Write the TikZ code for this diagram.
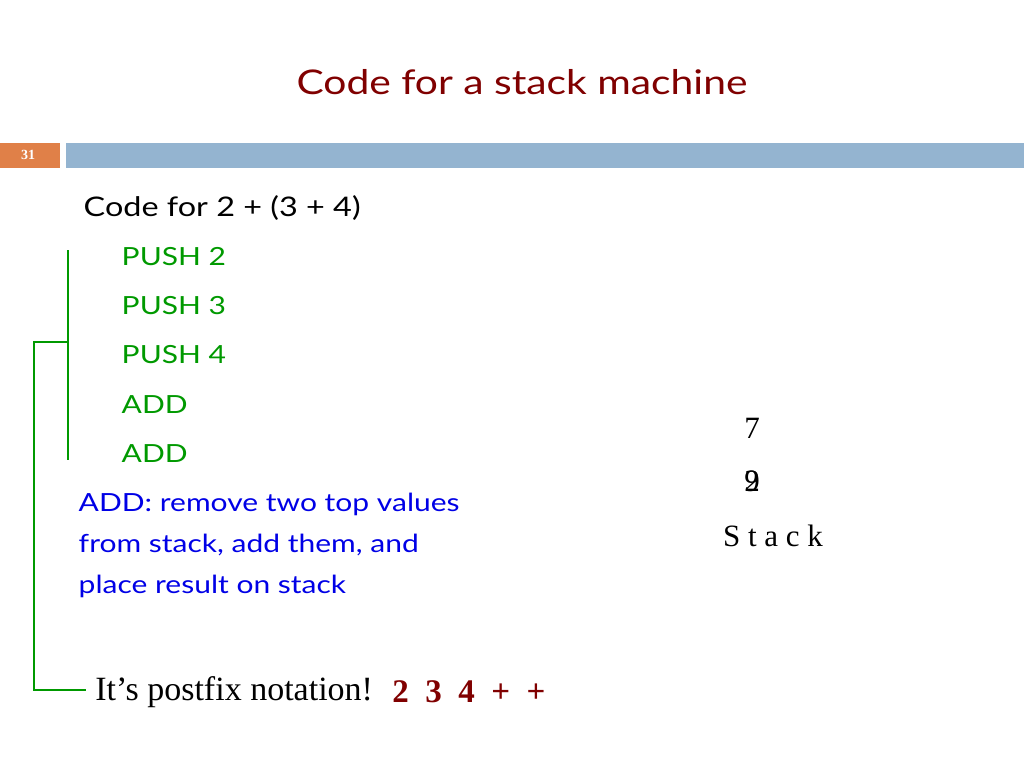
\documentclass[tikz,border=0pt]{standalone}
\usepackage{fontspec}
\setmainfont{Liberation Serif}
\newfontfamily\slidefont[FakeStretch=1.2]{Lato}
\usepackage{tikz}
\definecolor{titlered}{RGB}{128, 0, 0}
\definecolor{numorange}{RGB}{224, 128, 72}
\definecolor{barblue}{RGB}{148, 180, 208}
\definecolor{codegreen}{RGB}{0, 153, 0}
\definecolor{noteblue}{RGB}{0, 0, 230}

\begin{document}
\begin{tikzpicture}[x=1pt, y=-1pt, thick]
  \useasboundingbox (0, 0) rectangle (1024, 768);

  \node [text=titlered, font=\slidefont\fontsize{34}{40}\selectfont] (title) at (522, 82) {Code for a stack machine};

  \fill [numorange] (0, 143) rectangle (60, 168);
  \fill [barblue] (66, 143) rectangle (1024, 168);
  \node [text=white, font=\bfseries\fontsize{14}{16}\selectfont] (num) at (28, 155) {31};

  \node [anchor=west, font=\slidefont\fontsize{27}{30}\selectfont] (head) at (80, 208) {Code for 2 + (3 + 4)};

  \foreach \t [count=\i] in {PUSH 2, PUSH 3, PUSH 4, ADD, ADD}
    \node [anchor=west, text=codegreen, font=\slidefont\fontsize{25}{30}\selectfont] (op\i) at (118, 207 + 49.3*\i) {\t};

  \draw [codegreen, line width=1.5] (68, 250) -- (68, 460);
  \draw [codegreen, line width=1.5] (68, 342) -- (34, 342) -- (34, 690) -- (86, 690);

  \node [anchor=west, text=noteblue, align=left, font=\slidefont\fontsize{25}{41}\selectfont] (note) at (75, 545)
    {ADD: remove two top values\\from stack, add them, and\\place result on stack};

  \node [font=\fontsize{31}{34}\selectfont] (top) at (752, 428) {7};
  \node [font=\fontsize{31}{34}\selectfont] (bot) at (752, 481) {9};
  \node [font=\fontsize{31}{34}\selectfont] at (752, 481) {2};
  \node [font=\fontsize{31}{34}\selectfont] (stack) at (773, 536) {S\ t\ a\ c\ k};

  \node [anchor=west, font=\fontsize{34}{38}\selectfont, inner sep=0] (postfix) at (95, 692) {It's postfix notation!};
  \node [anchor=west, text=titlered, font=\bfseries\fontsize{33}{38}\selectfont, inner sep=0] (expr) at (392, 692) {2\ \ 3\ \ 4\ \ +\ \ +};

\end{tikzpicture}
\end{document}
